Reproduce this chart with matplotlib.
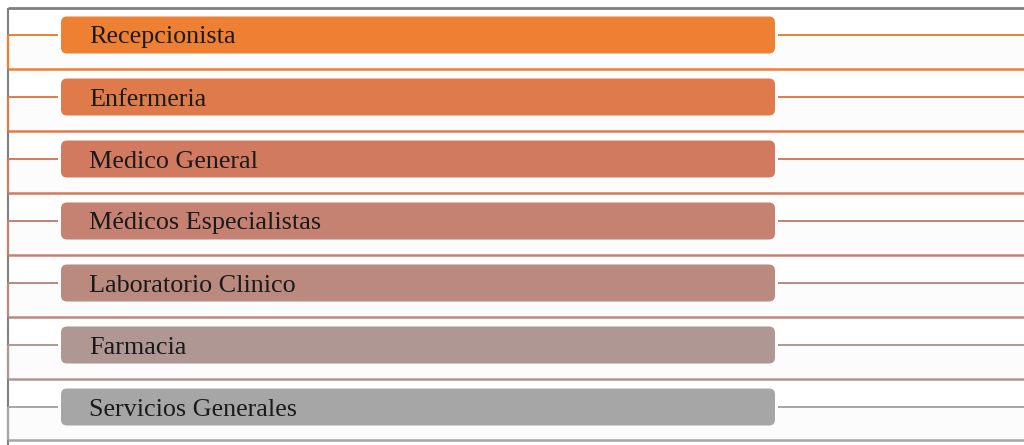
import matplotlib
matplotlib.use("Agg")
import matplotlib.pyplot as plt
from matplotlib.patches import FancyBboxPatch, Rectangle

# Categories (top to bottom) and their colours
labels = ["Recepcionista", "Enfermeria", "Medico General", "Médicos Especialistas",
          "Laboratorio Clinico", "Farmacia", "Servicios Generales"]
colors = ["#EE8033", "#DF7B4B", "#D27A5F", "#C58171", "#BA8A7E", "#AF9794", "#A6A6A6"]

W, H = 1024, 445
fig = plt.figure(figsize=(W / 100, H / 100), dpi=100)
ax = fig.add_axes([0, 0, 1, 1])
ax.set_xlim(0, W)
ax.set_ylim(H, 0)
ax.axis("off")

left = 8
top = 8
row_h = 62
box_x0, box_x1 = 61, 775
box_h = 37

# outer frame
ax.plot([left, W], [top, top], color="#808080", lw=2, solid_capstyle="butt")
ax.plot([left, left], [top, H], color="#808080", lw=1.5, solid_capstyle="butt")

for i, (lab, col) in enumerate(zip(labels, colors)):
    yc = 35 + i * row_h
    yb = 69 + i * row_h if i < len(labels) - 1 else 440
    # light lower half background
    ax.add_patch(Rectangle((left + 1, yc), W - left, yb - yc, color="#fcfcfc", zorder=0))
    bottom_col = col if i < len(labels) - 1 else "#A6A6A6"
    ax.plot([left, box_x0 - 3], [yc, yc], color=col, lw=1.4, solid_capstyle="butt")
    ax.plot([left, left], [yc, yb], color=col, lw=1.6, solid_capstyle="butt")
    ax.plot([left, W], [yb, yb], color=bottom_col, lw=1.8, solid_capstyle="butt")
    ax.plot([box_x1 + 3, W], [yc, yc], color=col, lw=1.4, solid_capstyle="butt")
    box = FancyBboxPatch((box_x0, yc - box_h / 2), box_x1 - box_x0, box_h,
                         boxstyle="round,pad=0,rounding_size=6",
                         facecolor=col, edgecolor="none", zorder=3)
    ax.add_patch(box)
    ax.text(89, yc + 2.5, lab, fontsize=18.8, family="Liberation Serif",
            color="#1a1a1a", va="center", ha="left", zorder=4)

fig.savefig("out.png", dpi=100, facecolor="white")
